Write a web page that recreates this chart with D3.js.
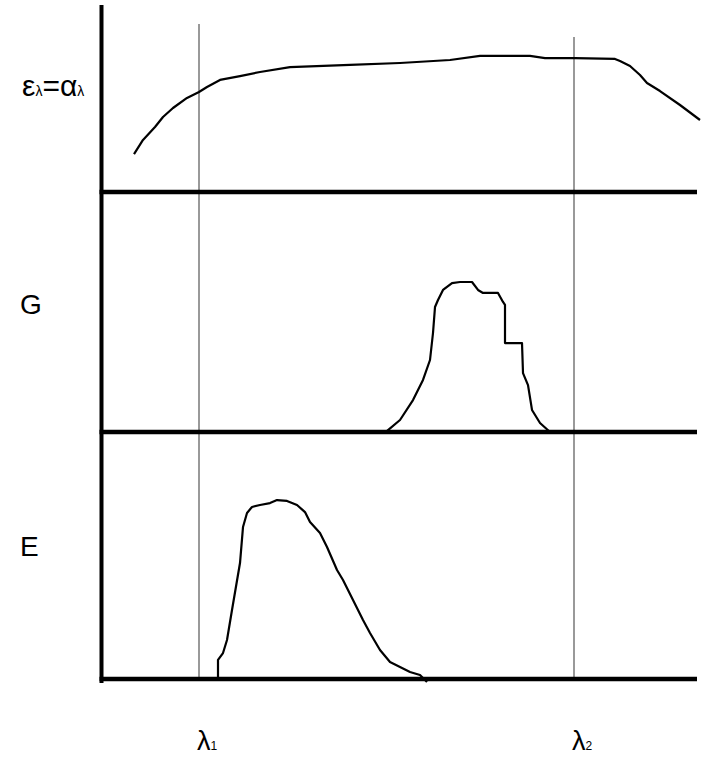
<!DOCTYPE html>
<html><head><meta charset="utf-8">
<script src="https://cdn.jsdelivr.net/npm/d3@7"></script>
<style>body{margin:0;background:#fff}svg{display:block}text{font-family:"Liberation Sans",Arial,sans-serif;fill:#000}</style>
</head><body><svg id="c" width="703" height="759"></svg>
<script>
// wavelength positions (arbitrary units 0..600) and panel values (0..100 scale)
const emissX = [34,43,55,63,73,87,99,107,120,140,160,190,250,300,350,380,430,445,475,515,520,530,540,547,560,580,600];
const emissV = [25.3,34.7,43.3,50,56,62.7,66.7,70,74.7,77.3,80,83.3,84.7,86,88,90.7,90.7,89.3,89.3,88.7,87.3,84,78,72.7,67.3,58,48];

const gX = [286,288,300,313,323,330,333,335,338,343,352,360,372,378,383,398,403,405,405,422,423,428,432,440,450];
const gV = [0,1.3,8,21.3,34.7,48,66,83.3,88,94.7,99.3,100,100,94.7,92.7,92.7,86.7,84.7,59.3,59.3,39.3,31.3,14.7,6,0];

const eX = [118,118,123,127,132,140,143,147,152,160,170,177,187,197,205,210,220,227,237,243,253,263,270,280,290,300,310,320,327];
const eV = [0,12.7,17.3,26,46,77.3,101.3,110.7,114.7,116,117.3,119.3,118.7,116,111.3,104.7,97.3,88,72.7,66,52.7,39.3,30.7,19.3,11.3,8,4.7,2.7,-2];

const markX = [99, 474];           // λ1, λ2 positions
const markLabels = [["λ","1"],["λ","2"]];
const panelLabels = ["G","E"];

const svg = d3.select("#c");
const x = d3.scaleLinear().domain([0,600]).range([100,700]);
const panels = [
  {base:192, top:42},
  {base:432, top:282},
  {base:679, top:529}
];
const ys = panels.map(p => d3.scaleLinear().domain([0,100]).range([p.base,p.top]));

// thin vertical marker lines
svg.selectAll("line.mark").data(markX).enter().append("line")
  .attr("x1",d=>x(d)).attr("x2",d=>x(d))
  .attr("y1",(d,i)=> i===0?24:37).attr("y2",681)
  .attr("stroke","#555").attr("stroke-width",1.2);

// curves
const series = [[emissX,emissV],[gX,gV],[eX,eV]];
series.forEach((s,i)=>{
  const pts = s[0].map((d,j)=>[d,s[1][j]]);
  const line = d3.line().x(d=>x(d[0])).y(d=>ys[i](d[1]));
  svg.append("path").attr("d",line(pts)).attr("fill","none")
    .attr("stroke","#000").attr("stroke-width",2.2).attr("stroke-linejoin","round");
});

// axes
svg.append("line").attr("x1",101.5).attr("x2",101.5).attr("y1",5).attr("y2",683)
  .attr("stroke","#000").attr("stroke-width",4);
panels.forEach(p=>{
  svg.append("line").attr("x1",99.5).attr("x2",x(597)).attr("y1",p.base).attr("y2",p.base)
    .attr("stroke","#000").attr("stroke-width",4.5);
});

// top label ελ=αλ
const t = svg.append("text").attr("x",22).attr("y",96).style("font-size","30px");
t.append("tspan").text("ε");
t.append("tspan").style("font-size","14px").text("λ");
t.append("tspan").text("=α");
t.append("tspan").style("font-size","14px").text("λ");

// panel labels
svg.selectAll("text.pl").data(panelLabels).enter().append("text")
  .attr("x",20).attr("y",(d,i)=>[314,556][i]).style("font-size","28px").text(d=>d);

// λ labels
markLabels.forEach((m,i)=>{
  const tt = svg.append("text").attr("x",x(markX[i])-2).attr("y",750).style("font-size","27px");
  tt.append("tspan").text(m[0]);
  tt.append("tspan").style("font-size","12px").text(m[1]);
});
</script></body></html>
